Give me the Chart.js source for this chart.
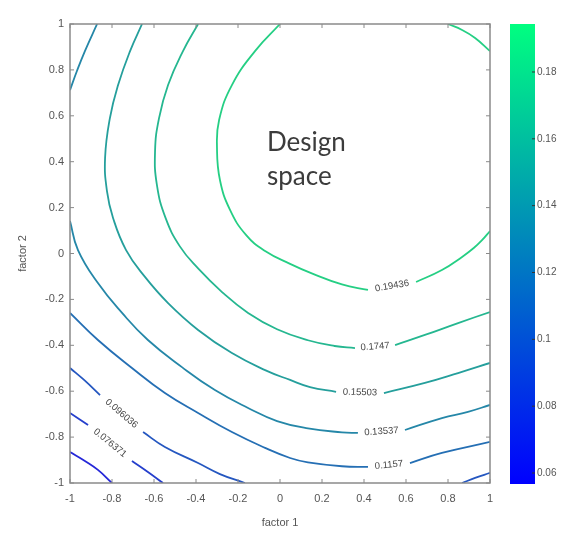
<!DOCTYPE html>
<html><head><meta charset="utf-8">
<script src="https://cdn.jsdelivr.net/npm/chart.js@4.4.0/dist/chart.umd.min.js"></script>
<style>
html,body{margin:0;padding:0;background:#fff;}
#wrap{position:relative;width:567px;height:534px;background:#fff;}
#main{position:absolute;left:0;top:0;}
#cbar{position:absolute;left:500px;top:0;}
</style></head><body>
<div id="wrap">
<canvas id="main" width="567" height="534"></canvas>
<canvas id="cbar" width="67" height="534"></canvas>
</div>
<script>
// ---- data ----
const levels = [0.19436, 0.1747, 0.15503, 0.13537, 0.1157, 0.096036, 0.076371, 0.056706];
const levelLabels = ['0.19436', '0.1747', '0.15503', '0.13537', '0.1157', '0.096036', '0.076371', null];
// contour traces [factor1, factor2]; null = break (first break holds the inline label)
const c1 = [[0.000,1.000],[-0.119,0.882],[-0.229,0.734],[-0.290,0.582],[-0.300,0.460],[-0.286,0.320],[-0.238,0.190],[-0.162,0.081],[-0.071,0.011],[0.048,-0.045],[0.160,-0.090],[0.295,-0.135],[0.419,-0.159],
  null,[0.648,-0.124],[0.771,-0.072],[0.867,-0.015],[0.924,0.025],[0.962,0.058],[1.000,0.098],
  null,[0.800,1.000],[0.867,0.974],[0.929,0.939],[1.000,0.882]];
const c2 = [[-0.390,1.000],[-0.462,0.882],[-0.533,0.734],[-0.576,0.590],[-0.595,0.447],[-0.586,0.298],[-0.545,0.155],[-0.476,0.030],[-0.390,-0.065],[-0.276,-0.168],[-0.152,-0.259],[-0.014,-0.330],[0.133,-0.378],[0.260,-0.403],[0.357,-0.412],
  null,[0.548,-0.399],[0.690,-0.355],[0.848,-0.303],[1.000,-0.255]];
const c3 = [[-0.657,1.000],[-0.714,0.882],[-0.771,0.734],[-0.810,0.590],[-0.833,0.416],[-0.824,0.272],[-0.795,0.155],[-0.733,0.015],[-0.643,-0.102],[-0.533,-0.216],[-0.390,-0.333],[-0.229,-0.434],[-0.071,-0.508],[0.048,-0.551],[0.143,-0.582],[0.267,-0.603],
  null,[0.495,-0.608],[0.690,-0.564],[0.848,-0.521],[1.000,-0.477]];
const c4 = [[-1.000,0.142],[-0.962,0.015],[-0.867,-0.129],[-0.752,-0.259],[-0.629,-0.377],[-0.467,-0.495],[-0.310,-0.595],[-0.152,-0.673],[-0.014,-0.730],[0.133,-0.762],[0.295,-0.779],[0.371,-0.782],
  null,[0.595,-0.769],[0.771,-0.717],[0.895,-0.690],[1.000,-0.660],
  null,[-0.871,1.000],[-0.929,0.882],[-0.967,0.795],[-1.000,0.712]];
const c5 = [[-1.000,-0.259],[-0.867,-0.377],[-0.705,-0.499],[-0.548,-0.608],[-0.390,-0.695],[-0.229,-0.778],[-0.071,-0.847],[0.048,-0.891],[0.133,-0.910],[0.295,-0.927],[0.419,-0.930],
  null,[0.619,-0.913],[0.771,-0.869],[1.000,-0.821]];
const c6 = [[-1.000,-0.499],[-0.933,-0.551],[-0.857,-0.617],
  null,[-0.652,-0.778],[-0.548,-0.843],[-0.390,-0.913],[-0.286,-0.961],[-0.167,-1.000],
  null,[0.867,-1.000],[0.929,-0.978],[1.000,-0.956]];
const c7 = [[-1.000,-0.695],[-0.914,-0.747],
  null,[-0.705,-0.904],[-0.629,-0.952],[-0.557,-1.000]];
const c8 = [[-1.000,-0.865],[-0.929,-0.904],[-0.867,-0.943],[-0.800,-1.000]];
const contours = [c1, c2, c3, c4, c5, c6, c7, c8];

const xTickVals = [-1,-0.8,-0.6,-0.4,-0.2,0,0.2,0.4,0.6,0.8,1];
const xTickLabels = ['-1','-0.8','-0.6','-0.4','-0.2','0','0.2','0.4','0.6','0.8','1'];
const yTickVals = [-1,-0.8,-0.6,-0.4,-0.2,0,0.2,0.4,0.6,0.8,1];
const yTickLabels = ['-1','-0.8','-0.6','-0.4','-0.2','0','0.2','0.4','0.6','0.8','1'];
const cbTickVals = [0.06,0.08,0.1,0.12,0.14,0.16,0.18];
const cbTickLabels = ['0.06','0.08','0.1','0.12','0.14','0.16','0.18'];
const cMin = 0.056706, cMax = 0.19436;

// ---- styling ----
const FONT = "'Liberation Sans', Arial, sans-serif";
function winter(v, mute) {
  const t = Math.max(0, Math.min(1, (v - cMin) / (cMax - cMin)));
  let r = 0, g = 255 * t, b = 255 * (1 - 0.5 * t);
  if (mute) { const m = 0.34; r = r*(1-m) + 110*m; g = g*(1-m) + 115*m; b = b*(1-m) + 140*m; }
  return `rgb(${Math.round(r)},${Math.round(g)},${Math.round(b)})`;
}

const datasets = contours.map((pts, i) => ({
  data: pts.map(p => p ? {x: p[0], y: p[1]} : {x: 0, y: null}),
  showLine: true, spanGaps: false, pointRadius: 0, borderWidth: 1.8,
  borderColor: winter(levels[i], true), tension: 0.45, fill: false
}));

const decor = {
  id: 'decor',
  afterDatasetsDraw(chart) {
    const {ctx, chartArea: a, scales: {x, y}} = chart;
    ctx.save();
    // inline contour labels in the first gap of each trace
    ctx.font = `9.5px ${FONT}`;
    ctx.fillStyle = '#444';
    ctx.textAlign = 'center'; ctx.textBaseline = 'middle';
    contours.forEach((pts, i) => {
      if (!levelLabels[i]) return;
      const k = pts.indexOf(null);
      if (k < 0) return;
      const p0 = pts[k-1], p1 = pts[k+1];
      const x0 = x.getPixelForValue(p0[0]), y0 = y.getPixelForValue(p0[1]);
      const x1 = x.getPixelForValue(p1[0]), y1 = y.getPixelForValue(p1[1]);
      ctx.save();
      ctx.translate((x0+x1)/2, (y0+y1)/2);
      ctx.rotate(Math.atan2(y1-y0, x1-x0));
      ctx.fillText(levelLabels[i], 0, 0);
      ctx.restore();
    });
    // "Design space" annotation
    ctx.font = "26px Lato, 'Open Sans', sans-serif";
    ctx.fillStyle = '#3c3c3c';
    ctx.textAlign = 'left'; ctx.textBaseline = 'alphabetic';
    ctx.fillText('Design', x.getPixelForValue(-0.062), y.getPixelForValue(0.447));
    ctx.fillText('space', x.getPixelForValue(-0.062), y.getPixelForValue(0.298));
    // axes box with inward ticks
    ctx.strokeStyle = '#8a8a8a';
    ctx.lineWidth = 1.5;
    ctx.strokeRect(a.left, a.top, a.right - a.left, a.bottom - a.top);
    ctx.lineWidth = 1;
    const tl = 4;
    ctx.beginPath();
    xTickVals.forEach(v => {
      const px = x.getPixelForValue(v);
      ctx.moveTo(px, a.bottom); ctx.lineTo(px, a.bottom - tl);
      ctx.moveTo(px, a.top); ctx.lineTo(px, a.top + tl);
    });
    yTickVals.forEach(v => {
      const py = y.getPixelForValue(v);
      ctx.moveTo(a.left, py); ctx.lineTo(a.left + tl, py);
      ctx.moveTo(a.right, py); ctx.lineTo(a.right - tl, py);
    });
    ctx.stroke();
    ctx.restore();
  }
};

const tickFont = {family: FONT, size: 11};
new Chart(document.getElementById('main'), {
  type: 'scatter',
  data: {datasets},
  options: {
    responsive: false, animation: false, devicePixelRatio: 1,
    layout: {padding: {top: 24, right: 77, left: 0, bottom: 0}},
    plugins: {legend: {display: false}, tooltip: {enabled: false}},
    scales: {
      x: {
        type: 'linear', min: -1, max: 1,
        afterBuildTicks: s => { s.ticks = xTickVals.map(v => ({value: v})); },
        afterFit: s => { s.height = 51; },
        grid: {display: false, drawTicks: false}, border: {display: false},
        ticks: {padding: 9, color: '#555', font: tickFont, maxRotation: 0, autoSkip: false,
                callback: (v, i) => xTickLabels[i]},
        title: {display: true, text: 'factor 1', color: '#555', font: tickFont, padding: {top: 0, bottom: 4}}
      },
      y: {
        type: 'linear', min: -1, max: 1,
        afterBuildTicks: s => { s.ticks = yTickVals.map(v => ({value: v})); },
        afterFit: s => { s.width = 70; },
        grid: {display: false, drawTicks: false}, border: {display: false},
        ticks: {padding: 6, color: '#555', font: tickFont, autoSkip: false,
                callback: (v, i) => yTickLabels[i]},
        title: {display: true, text: 'factor 2', color: '#555', font: tickFont, padding: {top: 16, bottom: 0}}
      }
    }
  },
  plugins: [decor]
});

// ---- colorbar ----
const cbDecor = {
  id: 'cbDecor',
  afterDatasetsDraw(chart) {
    const {ctx, chartArea: a, scales: {y}} = chart;
    ctx.save();
    ctx.strokeStyle = '#333'; ctx.lineWidth = 1;
    ctx.beginPath();
    cbTickVals.forEach(v => {
      const py = y.getPixelForValue(v);
      ctx.moveTo(a.right, py); ctx.lineTo(a.right - 3, py);
    });
    ctx.stroke();
    ctx.restore();
  }
};
new Chart(document.getElementById('cbar'), {
  type: 'bar',
  data: {labels: [''], datasets: [{
    data: [[cMin, cMax]],
    backgroundColor: (c) => {
      const ch = c.chart, a = ch.chartArea;
      if (!a) return winter(cMin, false);
      const g = ch.ctx.createLinearGradient(0, a.bottom, 0, a.top);
      g.addColorStop(0, winter(cMin, false));
      g.addColorStop(1, winter(cMax, false));
      return g;
    },
    borderWidth: 0, barPercentage: 1, categoryPercentage: 1
  }]},
  options: {
    responsive: false, animation: false, devicePixelRatio: 1,
    layout: {padding: {left: 10, top: 24, bottom: 50, right: 0}},
    plugins: {legend: {display: false}, tooltip: {enabled: false}},
    scales: {
      x: {display: false},
      y: {
        position: 'right', min: cMin, max: cMax,
        afterBuildTicks: s => { s.ticks = cbTickVals.map(v => ({value: v})); },
        afterFit: s => { s.width = 32; },
        grid: {display: false, drawTicks: false}, border: {display: false},
        ticks: {padding: 2, color: '#555', font: {family: FONT, size: 10}, autoSkip: false,
                callback: (v, i) => cbTickLabels[i]}
      }
    }
  },
  plugins: [cbDecor]
});
</script>
</body></html>
